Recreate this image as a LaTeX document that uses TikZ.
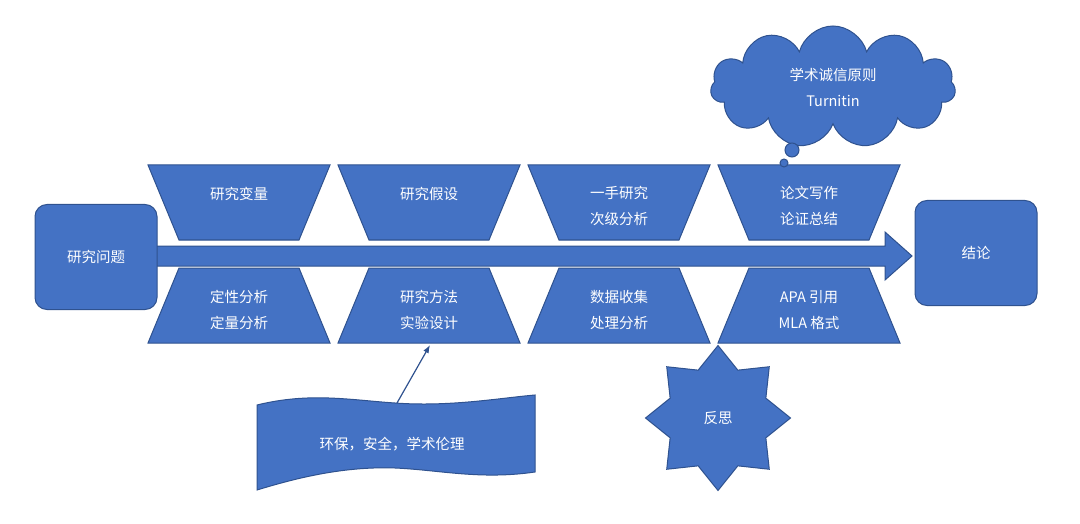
\documentclass[tikz,border=0pt]{standalone}
\usepackage{fontspec}
\newfontfamily\cjk{Noto Sans CJK SC}
\usetikzlibrary{shapes.geometric,shapes.symbols,arrows.meta}
\definecolor{fillb}{HTML}{4472C4}
\definecolor{edgeb}{HTML}{2F528F}
\tikzset{
 blk/.style={fill=fillb,draw=edgeb,line width=1pt},
 lbl/.style={text=white,font=\cjk\fontsize{14.5}{26}\selectfont,align=center},
}
\begin{document}
\begin{tikzpicture}[x=1pt,y=-1pt]
\useasboundingbox (0,0) rectangle (1080,524);
% main arrow
\draw[blk] (155,246) -- (885,246) -- (885,232) -- (912,256) -- (885,280) -- (885,266) -- (155,266) -- cycle;
\node[blk,rounded corners=12pt,minimum width=122pt,minimum height=105pt,lbl] (q) at (96,257) {研究问题};
\node[blk,rounded corners=12pt,minimum width=122pt,minimum height=105pt,lbl] (c) at (976,253) {结论};
% trapezoids
\foreach \cx/\ta/\tb/\ba/\bb [count=\i] in {239/研究变量//定性分析/定量分析, 429/研究假设//研究方法/实验设计, 619/一手研究/次级分析/数据收集/处理分析, 809/论文写作/论证总结/APA 引用/MLA 格式}{
 \draw[blk] (\cx-91,165) -- (\cx+91,165) -- (\cx+60,240) -- (\cx-60,240) -- cycle;
 \draw[blk] (\cx-60,268) -- (\cx+60,268) -- (\cx+91,343) -- (\cx-91,343) -- cycle;
 \node[lbl] (t\i) at (\cx,206) {\ta\ifx&\tb&\else\\\tb\fi};
 \node[lbl] (b\i) at (\cx,310) {\ba\\\bb};
}
% cloud
\node[cloud,cloud puffs=11,aspect=2.1,blk,minimum width=245pt,minimum height=122pt,lbl] (cl) at (833,87) {学术诚信原则\\Turnitin};
\node[circle,blk,minimum size=14pt,inner sep=0] (p1) at (792,150) {};
\node[circle,blk,minimum size=8pt,inner sep=0] (p2) at (784,163) {};
% star
\node[star,star points=8,star point ratio=1.4,blk,minimum size=145pt,inner sep=0,lbl] (s) at (718,418) {反思};
% wave banner
\draw[blk] (257,405) .. controls (310,392) and (350,400) .. (395,403) .. controls (450,407) and (500,398) .. (535,395)
 -- (535,472) .. controls (480,480) and (440,470) .. (395,468) .. controls (340,466) and (290,480) .. (257,490) -- cycle;
\node[lbl] (w) at (392,444) {环保，安全，学术伦理};
\coordinate (wa) at (397,403);
\coordinate (wb) at (430,345);
\draw[edgeb,line width=1.2pt,-{Latex[length=8pt]}] (wa) -- (wb);
\end{tikzpicture}
\end{document}
